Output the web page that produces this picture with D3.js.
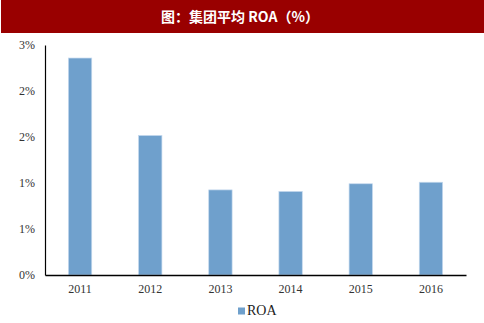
<!DOCTYPE html>
<html><head><meta charset="utf-8">
<script src="https://cdn.jsdelivr.net/npm/d3@7"></script>
<style>body{margin:0;background:#fff}svg{display:block}</style>
</head><body>
<script>
const title = "图：集团平均 ROA（%）";
const categories = ["2011","2012","2013","2014","2015","2016"];
const roaValues = [2.83, 1.82, 1.11, 1.09, 1.19, 1.21];
const yTicks = [0, 0.6, 1.2, 1.8, 2.4, 3.0];
const yTickLabels = ["0%","1%","1%","2%","2%","3%"];
const seriesName = "ROA";

const W = 484, H = 323;
const svg = d3.select("body").append("svg").attr("width", W).attr("height", H);

svg.append("rect").attr("x", 1).attr("y", 0).attr("width", W - 1).attr("height", 33).attr("fill", "#990000");
svg.append("text").attr("x", 240).attr("y", 22).attr("text-anchor", "middle")
  .attr("fill", "#fff").attr("font-family", "'Noto Sans CJK SC', sans-serif").attr("font-weight", "bold")
  .attr("font-size", 14).text(title);

const x = d3.scaleBand().domain(categories).range([45, 466]).paddingInner(0.667).paddingOuter(0.333);
const y = d3.scaleLinear().domain([0, 3]).range([275, 45]);

svg.selectAll("rect.bar").data(roaValues).join("rect").attr("class", "bar")
  .attr("x", (d, i) => x(categories[i])).attr("width", x.bandwidth())
  .attr("y", d => y(d)).attr("height", d => y(0) - y(d))
  .attr("fill", "#6fa0cc").attr("stroke", "#c5d9ee").attr("stroke-width", 0.7);

const yAxis = d3.axisLeft(y).tickValues(yTicks).tickFormat((d, i) => yTickLabels[i]).tickSize(0).tickPadding(10);
const gy = svg.append("g").attr("transform", "translate(45,0)").call(yAxis);
gy.select(".domain").attr("stroke", "#000").attr("stroke-width", 1.2);
gy.selectAll("text").attr("font-family", "'Liberation Serif', serif").attr("font-size", 12).attr("fill", "#333");

const xAxis = d3.axisBottom(x).tickSize(0).tickPadding(9);
const gx = svg.append("g").attr("transform", "translate(0,275)").call(xAxis);
gx.select(".domain").attr("stroke", "#000").attr("stroke-width", 1.5);
gx.selectAll("text").attr("font-family", "'Liberation Serif', serif").attr("font-size", 12).attr("fill", "#333");

svg.append("rect").attr("x", 238).attr("y", 307.5).attr("width", 7).attr("height", 7).attr("fill", "#6fa0cc");
svg.append("text").attr("x", 247).attr("y", 315).attr("font-family", "'Liberation Serif', serif")
  .attr("font-size", 14).attr("fill", "#222").text(seriesName);
</script>
</body></html>
